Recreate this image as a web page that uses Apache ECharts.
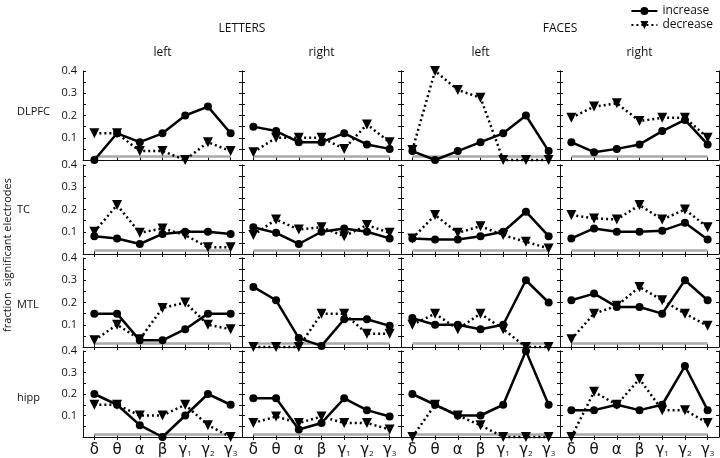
<!DOCTYPE html>
<html>
<head>
<meta charset="utf-8">
<script src="https://cdn.jsdelivr.net/npm/echarts@6/dist/echarts.min.js"></script>
<style>
body {margin: 0; background: #fff}
#chart {width: 720px; height: 458px}
</style>
</head>
<body>
<div id="chart"></div>
<script>
// frequency bands on the x axis of every panel
let bands = ["δ", "θ", "α", "β", "γ1", "γ2", "γ3"]
let regions = ["DLPFC", "TC", "MTL", "hipp"]
let conditions = ["LETTERS", "FACES"]
let sides = ["left", "right", "left", "right"]
let yTicks = [0.1, 0.2, 0.3, 0.4]
let chance = 0.015

// each row: panels LETTERS-left, LETTERS-right, FACES-left, FACES-right
let dlpfcIncrease = [
	[0, 0.12, 0.08, 0.12, 0.2, 0.24, 0.12],
	[0.15, 0.13, 0.08, 0.08, 0.12, 0.07, 0.05],
	[0.04, 0, 0.04, 0.08, 0.12, 0.2, 0.04],
	[0.08, 0.035, 0.05, 0.07, 0.13, 0.18, 0.07]
]
let dlpfcDecrease = [
	[0.12, 0.12, 0.04, 0.04, 0, 0.08, 0.04],
	[0.035, 0.1, 0.1, 0.1, 0.05, 0.16, 0.08],
	[0.045, 0.4, 0.315, 0.28, 0, 0, 0],
	[0.19, 0.24, 0.255, 0.175, 0.19, 0.19, 0.1]
]
let tcIncrease = [
	[0.08, 0.07, 0.045, 0.09, 0.1, 0.1, 0.09],
	[0.12, 0.095, 0.045, 0.1, 0.115, 0.1, 0.07],
	[0.07, 0.065, 0.065, 0.08, 0.1, 0.19, 0.08],
	[0.07, 0.115, 0.1, 0.1, 0.105, 0.14, 0.065]
]
let tcDecrease = [
	[0.1, 0.22, 0.095, 0.115, 0.085, 0.03, 0.03],
	[0.085, 0.155, 0.11, 0.12, 0.08, 0.13, 0.095],
	[0.07, 0.175, 0.095, 0.125, 0.085, 0.055, 0.025],
	[0.175, 0.16, 0.155, 0.22, 0.155, 0.2, 0.12]
]
let mtlIncrease = [
	[0.15, 0.15, 0.03, 0.03, 0.08, 0.15, 0.15],
	[0.27, 0.21, 0.04, 0.005, 0.125, 0.125, 0.095],
	[0.13, 0.1, 0.1, 0.08, 0.1, 0.3, 0.2],
	[0.21, 0.24, 0.18, 0.18, 0.15, 0.3, 0.21]
]
let mtlDecrease = [
	[0.03, 0.1, 0.035, 0.175, 0.2, 0.1, 0.08],
	[0, 0, 0, 0.15, 0.15, 0.06, 0.06],
	[0.1, 0.15, 0.08, 0.15, 0.08, 0, 0],
	[0.035, 0.15, 0.185, 0.27, 0.21, 0.15, 0.095]
]
let hippIncrease = [
	[0.2, 0.15, 0.055, 0, 0.1, 0.2, 0.15],
	[0.18, 0.18, 0.035, 0.065, 0.18, 0.125, 0.095],
	[0.2, 0.15, 0.1, 0.1, 0.15, 0.4, 0.15],
	[0.125, 0.125, 0.15, 0.125, 0.15, 0.33, 0.125]
]
let hippDecrease = [
	[0.15, 0.15, 0.1, 0.1, 0.15, 0.055, 0],
	[0.065, 0.095, 0.065, 0.095, 0.065, 0.065, 0.035],
	[0, 0.15, 0.1, 0.055, 0, 0, 0],
	[0, 0.21, 0.15, 0.27, 0.125, 0.125, 0.065]
]

let increaseRows = [dlpfcIncrease, tcIncrease, mtlIncrease, hippIncrease]
let decreaseRows = [dlpfcDecrease, tcDecrease, mtlDecrease, hippDecrease]

let font = "Open Sans"
let colLeft = [83, 242, 401, 560]
let colWidth = 159
let rowTop = [71, 165, 258, 351]
let rowHeight = 89

let grids = [], xAxes = [], yAxes = [], series = []

function bandLabel(v) {
	if (v.length > 1)
		return "{g|" + v[0] + "}{s|" + v.slice(1) + "}"
	return "{g|" + v + "}"
}

for (let r = 0; r < 4; r++) {
	for (let c = 0; c < 4; c++) {
		let g = grids.length
		grids.push({left: colLeft[c], top: rowTop[r], width: colWidth, height: rowHeight})
		let last = r === 3
		xAxes.push({
			type: "category", gridIndex: g, data: bands, position: "bottom",
			axisLine: {lineStyle: {color: "#111", width: 1}},
			axisTick: {show: true, inside: true, length: 3, alignWithLabel: true, lineStyle: {color: "#111"}},
			axisLabel: {
				show: last, interval: 0, formatter: bandLabel, margin: 6, color: "#111",
				rich: {
					g: {fontSize: 15, fontFamily: "DejaVu Sans", verticalAlign: "bottom", color: "#111"},
					s: {fontSize: 8, fontFamily: font, verticalAlign: "bottom", color: "#111"}
				}
			},
			splitLine: {show: false}
		})
		xAxes.push({
			type: "category", gridIndex: g, data: bands, position: "top",
			axisLine: {show: false},
			axisTick: {show: r > 0, inside: true, length: 3, alignWithLabel: true, lineStyle: {color: "#111"}},
			axisLabel: {show: false},
			splitLine: {show: false}
		})
		let yBase = {
			type: "value", gridIndex: g, min: 0, max: 0.4, interval: 0.05,
			axisLine: {show: true, lineStyle: {color: "#111", width: 1}},
			axisTick: {show: true, inside: true, length: 3, lineStyle: {color: "#111"}},
			splitLine: {show: false}
		}
		yAxes.push(Object.assign({}, yBase, {
			position: "left",
			axisLabel: {
				show: c === 0, margin: 6, color: "#111", fontSize: 11, fontFamily: font,
				formatter: function (v) {
					let hit = yTicks.find(t => Math.abs(t - v) < 1e-6)
					return hit ? hit.toFixed(1) : ""
				}
			}
		}))
		yAxes.push(Object.assign({}, yBase, {
			position: "right",
			axisLabel: {show: false}
		}))

		series.push({
			name: "increase", type: "line", xAxisIndex: 2 * g, yAxisIndex: 2 * g,
			data: increaseRows[r][c], clip: false, z: 4,
			symbol: "circle", symbolSize: 8,
			lineStyle: {color: "#000", width: 2.5},
			itemStyle: {color: "#000"},
			markLine: {
				silent: true, symbol: "none", label: {show: false}, z: 1,
				lineStyle: {color: "#aaa", width: 2.5, type: "solid"},
				data: [[{coord: [bands[0], chance]}, {coord: [bands[bands.length - 1], chance]}]]
			}
		})
		series.push({
			name: "decrease", type: "line", xAxisIndex: 2 * g, yAxisIndex: 2 * g,
			data: decreaseRows[r][c], clip: false, z: 3,
			symbol: "triangle", symbolRotate: 180, symbolSize: 10,
			lineStyle: {color: "#000", width: 2.5, type: [2, 3]},
			itemStyle: {color: "#000"}
		})
	}
}

let graphics = []
function text(x, y, s, size, align, extra) {
	graphics.push(Object.assign({
		type: "text", x: x, y: y,
		style: {text: s, fontSize: size, fontFamily: font, fill: "#111", align: align, verticalAlign: "middle"}
	}, extra || {}))
}
for (let i = 0; i < 2; i++)
	text(colLeft[2 * i + 1], 29, conditions[i], 12, "center")
for (let c = 0; c < 4; c++)
	text(colLeft[c] + colWidth / 2, 53, sides[c], 12, "center")
let rowLabelY = [112, 210, 305, 398]
for (let r = 0; r < 4; r++)
	text(17, rowLabelY[r], regions[r], 11, "left")
text(8, 255, "fraction  significant electrodes", 11, "center", {rotation: Math.PI / 2})

let chart = echarts.init(document.getElementById("chart"))
chart.setOption({
	animation: false,
	grid: grids,
	xAxis: xAxes,
	yAxis: yAxes,
	series: series,
	graphic: graphics,
	legend: {
		data: ["increase", "decrease"],
		orient: "vertical", right: 2, top: 0,
		itemGap: 2, itemWidth: 26, itemHeight: 10,
		textStyle: {fontSize: 12, fontFamily: font, color: "#111"}
	}
})
</script>
</body>
</html>
